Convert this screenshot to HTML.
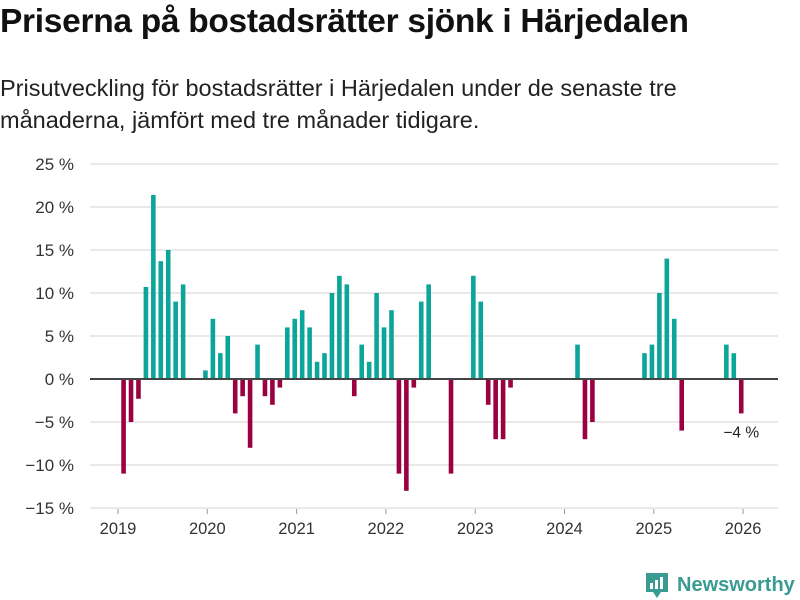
<!DOCTYPE html>
<html><head><meta charset="utf-8"><style>
body{margin:0;width:800px;height:600px;background:#fff;font-family:"Liberation Sans","DejaVu Sans",sans-serif;overflow:hidden;position:relative}
h1{position:absolute;left:0;top:3px;margin:0;font-size:33.5px;font-weight:bold;color:#111;letter-spacing:-0.3px;white-space:nowrap}
.sub{position:absolute;left:0;top:72px;font-size:23.5px;line-height:32px;color:#222;width:720px}
svg{position:absolute;left:0;top:0}
</style></head><body>
<h1>Priserna på bostadsrätter sjönk i Härjedalen</h1>
<div class="sub">Prisutveckling för bostadsrätter i Härjedalen under de senaste tre månaderna, jämfört med tre månader tidigare.</div>
<svg id="chart" width="800" height="600"></svg>
<div style="position:absolute;left:645px;top:571px;display:flex;align-items:center">
<svg width="24" height="28" style="position:static"><path d="M1 2h22v19h-7l-4 6-4-6H1z" fill="#3a9b92"/><rect x="5" y="12" width="3" height="6" fill="#fff"/><rect x="10" y="9" width="3" height="9" fill="#fff"/><rect x="15" y="6" width="3" height="12" fill="#fff"/></svg>
<span style="color:#3a9b92;font-size:20px;font-weight:bold;margin-left:8px">Newsworthy</span></div>
<script>
const startYear = 2019;
const values = [-11,-5,-2.3,10.7,21.4,13.7,15,9,11,null,null,1,
 7,3,5,-4,-2,-8,4,-2,-3,-1,6,7,
 8,6,2,3,10,12,11,-2,4,2,10,6,
 8,-11,-13,-1,9,11,null,null,-11,null,null,12,
 9,-3,-7,-7,-1,null,null,null,null,null,null,null,
 null,4,-7,-5,null,null,null,null,null,null,3,4,
 10,14,7,-6,null,null,null,null,null,4,3,-4];
const yTicks = [25,20,15,10,5,0,-5,-10,-15];
const xYears = [2019,2020,2021,2022,2023,2024,2025,2026];
const lastLabel = "−4 %";
const svg = document.getElementById('chart');
const NS = 'http://www.w3.org/2000/svg';
const y = v => 379 - v * 8.6;
const x = t => 118 + (t - 2019) * 89.3;
function mk(tag, a){const e=document.createElementNS(NS,tag);for(const k in a)e.setAttribute(k,a[k]);svg.appendChild(e);return e;}
yTicks.forEach(v=>{
  if(v!==0){const g=mk('line',{x1:90,x2:778,y1:y(v),y2:y(v),stroke:'#e2e2e2','stroke-width':1.5});
  
  }
  const t=mk('text',{x:74,y:y(v)+6,'text-anchor':'end','font-size':17,fill:'#333'});
  t.textContent=(v<0?'−'+(-v):v)+' %';
  
  
});
xYears.forEach(yr=>{
  const t=mk('text',{x:x(yr),y:534,'text-anchor':'middle','font-size':16.5,fill:'#333'});
  t.textContent=yr;
  
  
  const k=mk('line',{x1:x(yr),x2:x(yr),y1:509,y2:514,stroke:'#999'});
  
  
});
values.forEach((v,i)=>{
  if(v===null)return;
  const cx=x(startYear+(i+0.75)/12);
  const top=Math.min(y(v),y(0)), h=Math.abs(y(v)-y(0));
  const r=mk('rect',{x:cx-2.3,y:top,width:4.6,height:h,fill:v>=0?'#0ca59a':'#9b0040'});
  
  
});
const z=mk('line',{x1:90,x2:778,y1:y(0),y2:y(0),stroke:'#444','stroke-width':2});


const li=values.length-1;
const lbl=mk('text',{x:x(startYear+(li+0.75)/12),y:y(values[li])+24,'text-anchor':'middle','font-size':15.5,fill:'#222'});
lbl.textContent=lastLabel;


</script>
</body></html>
